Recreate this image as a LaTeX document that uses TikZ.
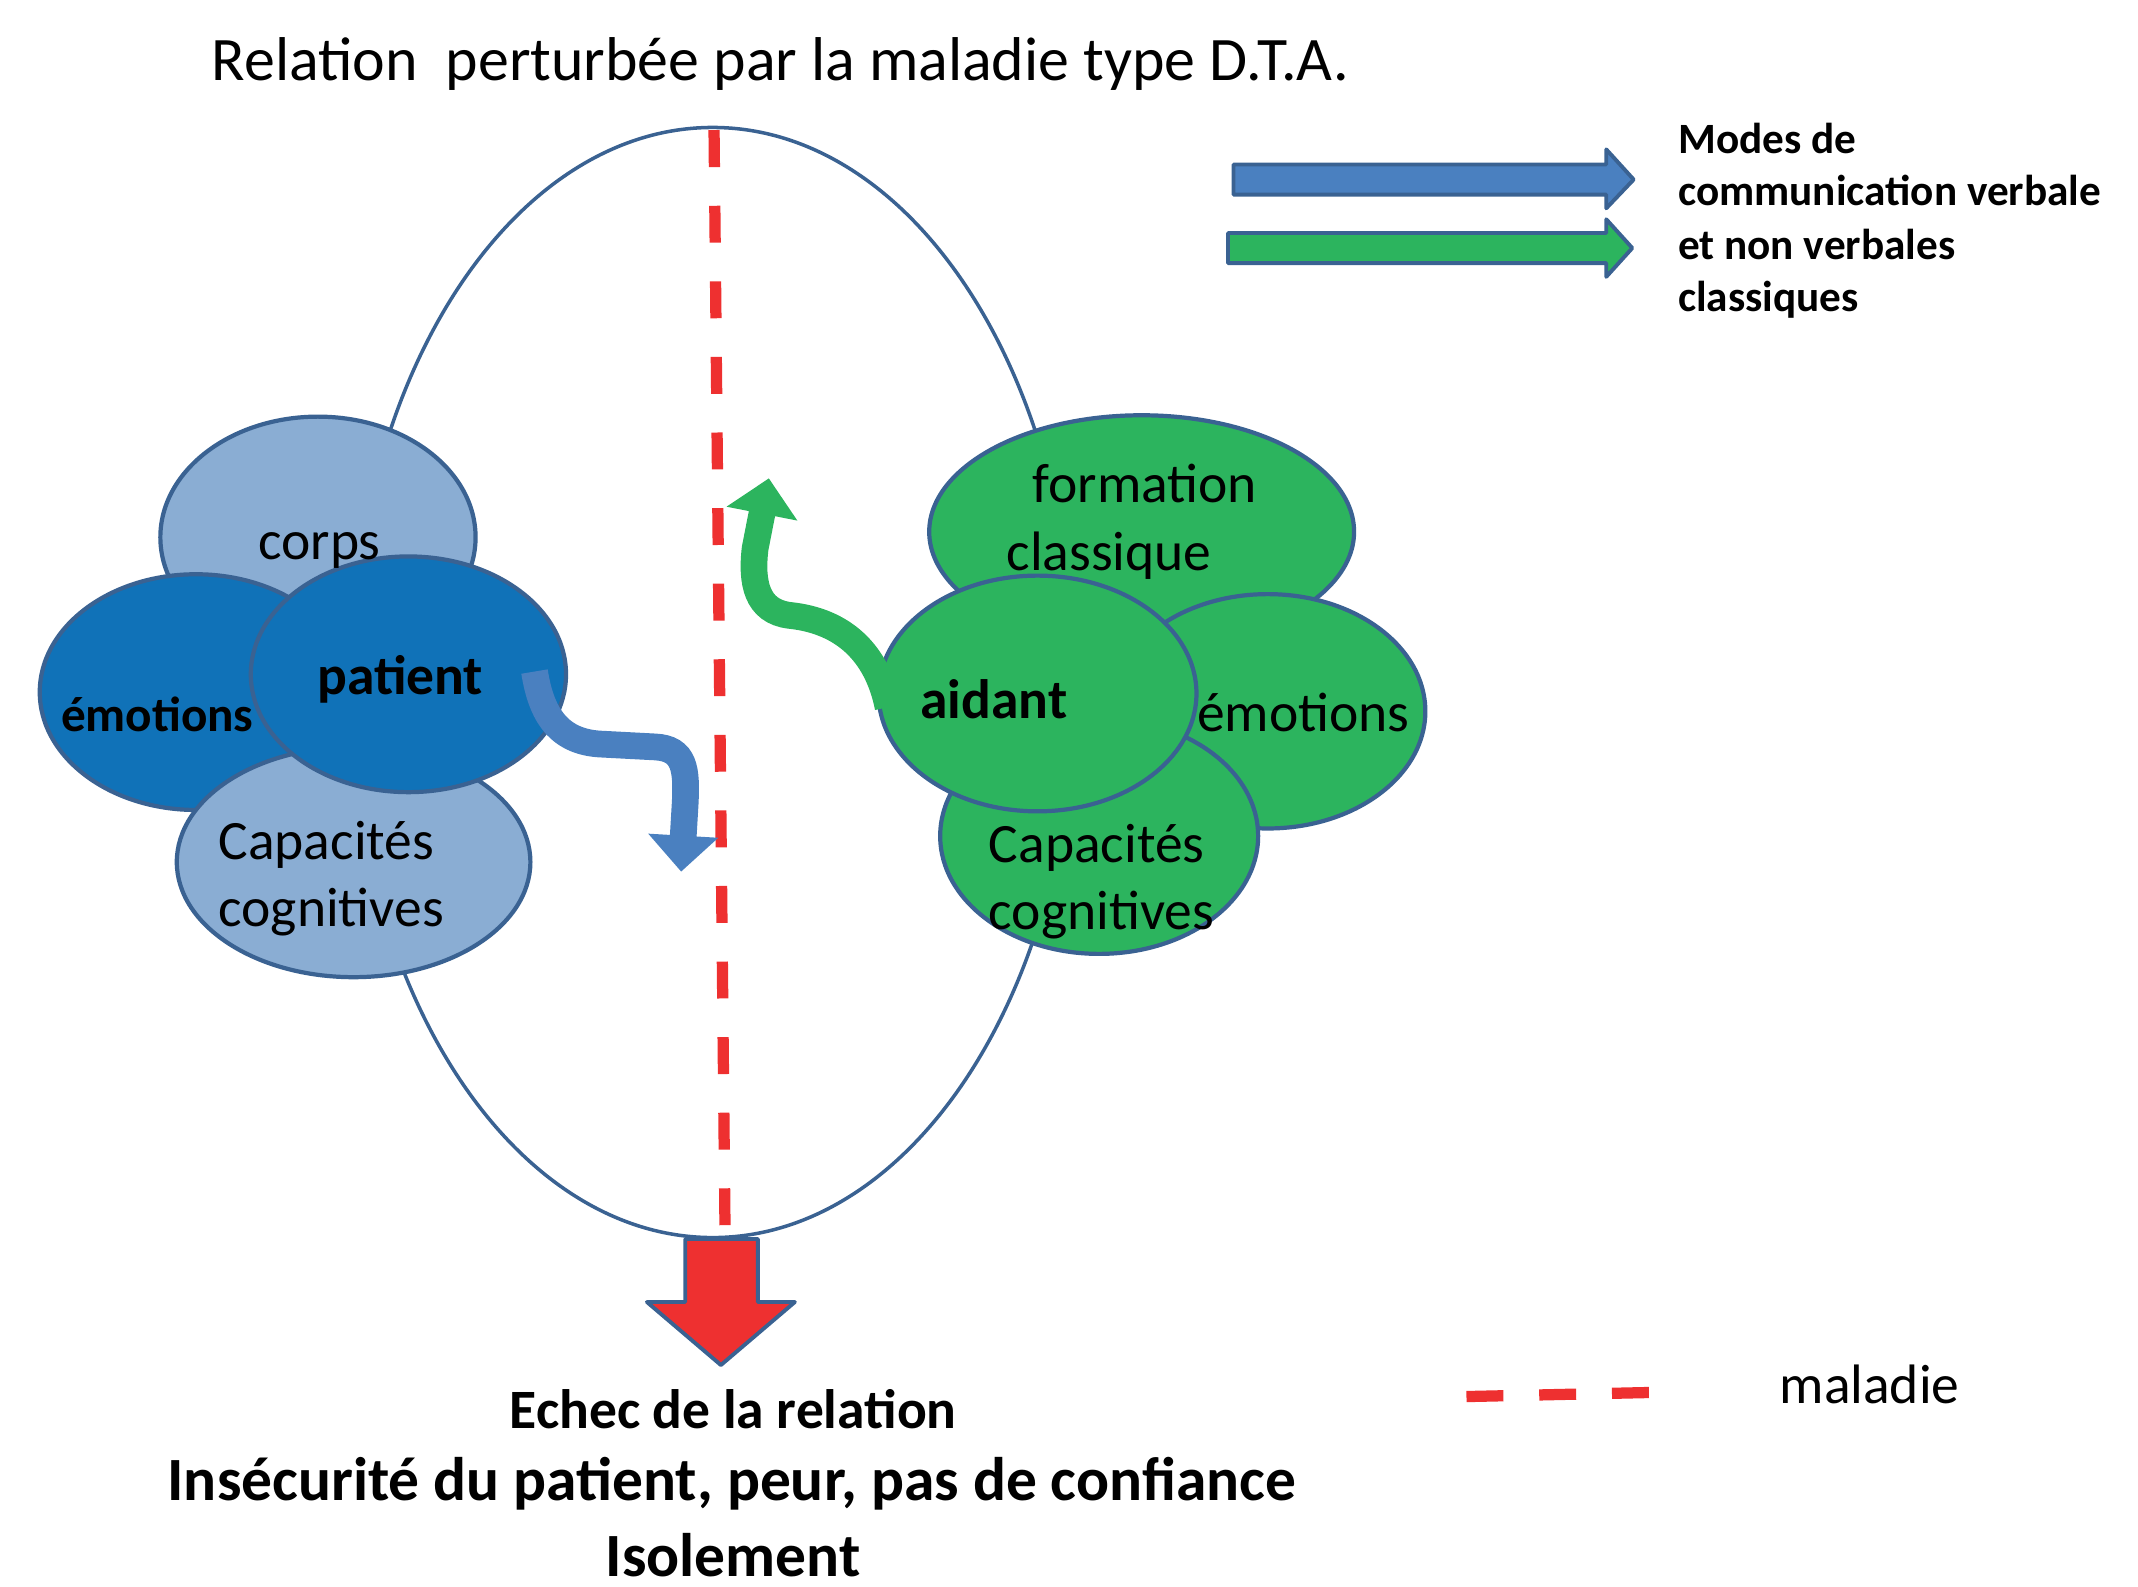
\documentclass[tikz,border=0pt]{standalone}
\usepackage{fontspec}
\setmainfont{Carlito}
\usetikzlibrary{shapes.geometric,arrows.meta}
\definecolor{lblue}{HTML}{8AADD3}
\definecolor{dblue}{HTML}{1072B8}
\definecolor{cgreen}{HTML}{2CB45E}
\definecolor{edgec}{HTML}{3A6292}
\definecolor{ablue}{HTML}{4A80C0}
\definecolor{cred}{HTML}{EE3030}
\begin{document}
\begin{tikzpicture}[x=0.013705cm,y=-0.013705cm,
  blob/.style n args={2}{ellipse, draw=edgec, line width=1.2pt, inner sep=0pt,
     minimum width=#1*0.013705cm, minimum height=#2*0.013705cm},
  lbl/.style={inner sep=0pt, anchor=base west, font=\fontsize{15.8}{19}\selectfont},
  blbl/.style={inner sep=0pt, anchor=base west, font=\bfseries\fontsize{15.8}{19}\selectfont},
  leg/.style={inner sep=0pt, anchor=base west, font=\bfseries\fontsize{12.3}{15}\selectfont},
  bigb/.style={inner sep=0pt, anchor=base, font=\bfseries\fontsize{17.5}{21}\selectfont},
  flow/.style={line width=7.6pt},
  blockarrow/.style={draw=edgec, line width=1.1pt, line join=round},
  redline/.style={cred, line width=3.2pt}
]
\useasboundingbox (0,0) rectangle (1560,1157.3);

% title
\node[lbl, font=\fontsize{17.6}{21}\selectfont] (title) at (154,59) {Relation~~perturbée par la maladie type D.T.A.};

% relation ellipse
\node[ellipse, draw=edgec, line width=1pt, inner sep=0pt,
      minimum width=528*0.013705cm, minimum height=810*0.013705cm] (rel) at (520,498) {};

% disease dashed line
\coordinate (dtop) at (521,95);
\coordinate (dbot) at (529,896);
\draw[redline, dash pattern=on 10.5pt off 11pt] (dtop) -- (dbot);

% left cluster
\node[blob={230}{176}, fill=lblue] (corps) at (232,392) {};
\node[blob={228}{172}, fill=dblue] (emoL) at (143,505) {};
\node[blob={258}{168}, fill=lblue] (capL) at (258,629) {};
\node[blob={230}{172}, fill=dblue] (patient) at (298,492) {};

\node[lbl] (tcorps) at (188,408) {corps};
\node[blbl, font=\bfseries\fontsize{14}{17}\selectfont] (temoL) at (44,534) {émotions};
\node[blbl] (tpatient) at (231,507) {patient};
\node[lbl] (tcapL1) at (159,627) {Capacités};
\node[lbl] (tcapL2) at (159,676) {cognitives};

% right cluster
\node[blob={310}{170}, fill=cgreen] (form) at (833,388) {};
\node[blob={230}{171}, fill=cgreen] (emoR) at (925,519) {};
\node[blob={232}{172}, fill=cgreen] (capR) at (802,610) {};
\node[blob={232}{172}, fill=cgreen] (aidant) at (757,506) {};

\node[lbl] (tform1) at (753,367) {formation};
\node[lbl] (tform2) at (734,416) {classique};
\node[blbl] (taidant) at (671,524) {aidant};
\node[lbl] (temoR) at (873,534) {émotions};
\node[lbl] (tcapR1) at (721,629) {Capacités};
\node[lbl] (tcapR2) at (721,678) {cognitives};

% curved flows
\coordinate (bstart) at (390,490);
\coordinate (bmid) at (478,545);
\coordinate (btip) at (497,636);
\draw[flow, ablue, -{Triangle[width=0.68cm,length=0.36cm]}]
  (bstart) .. controls (395,522) and (408,542) .. (440,543) -- (bmid)
  .. controls (500,546) and (501,562) .. (500,585) -- (btip);

\coordinate (gstart) at (648,516);
\coordinate (gmid) at (576,449);
\coordinate (gtip) at (561,349);
\draw[flow, cgreen, -{Triangle[width=0.7cm,length=0.36cm]}]
  (gstart) .. controls (640,476) and (615,453) .. (gmid)
  .. controls (552,446) and (548,425) .. (551,400) -- (gtip);

% red result arrow
\draw[blockarrow, fill=cred] (500,904) -- (553,904) -- (553,950) -- (580,950)
  -- (526,996) -- (472,950) -- (500,950) -- cycle;

\node[bigb, font=\bfseries\fontsize{15.8}{19}\selectfont] (echec) at (535,1042) {Echec de la relation};
\node[bigb] (insec) at (534,1095) {Insécurité du patient, peur, pas de confiance};
\node[bigb] (isol) at (535,1150) {Isolement};

% legend arrows
\draw[blockarrow, fill=ablue] (900,120) -- (1172,120) -- (1172,109) -- (1192,131)
  -- (1172,152) -- (1172,142) -- (900,142) -- cycle;
\draw[blockarrow, fill=cgreen] (896,170) -- (1172,170) -- (1172,160) -- (1191,181)
  -- (1172,202) -- (1172,192) -- (896,192) -- cycle;

\node[leg] (leg1) at (1224,112) {Modes de};
\node[leg] (leg2) at (1224,150) {communication verbale};
\node[leg] (leg3) at (1224,189) {et non verbales};
\node[leg] (leg4) at (1224,227) {classiques};

% legend disease line
\coordinate (la) at (1070,1019);
\coordinate (lb) at (1205,1016);
\draw[redline, dash pattern=on 10.5pt off 10.2pt] (la) -- (lb);
\node[lbl] (tmal) at (1298,1024) {maladie};
\end{tikzpicture}
\end{document}
